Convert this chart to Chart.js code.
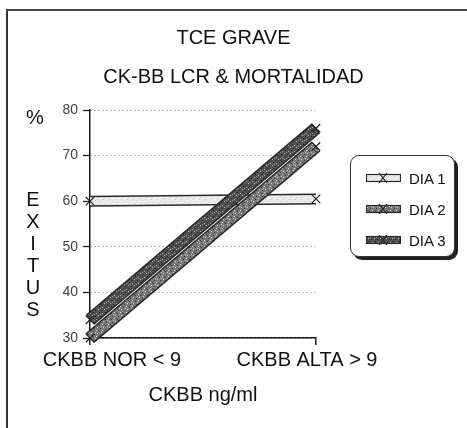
<!DOCTYPE html>
<html>
<head>
<meta charset="utf-8">
<script src="https://cdn.jsdelivr.net/npm/chart.js@4.4.1/dist/chart.umd.min.js"></script>
<style>
  html, body { margin: 0; padding: 0; background: #fff; }
  #wrap { position: relative; width: 467px; height: 428px; overflow: hidden; }
  #frame { position: absolute; left: 6px; top: 9px; width: 480px; height: 440px; border-left: 2px solid #333; border-top: 2px solid #444; }
  #chart { position: absolute; left: 0; top: 0; }
  #legend { position: absolute; left: 350px; top: 155px; width: 103px; height: 100px; border: 1.5px solid #333; border-radius: 9px; box-shadow: 3px 3px 0 #222; background: #fff; font-family: "Liberation Sans", Arial, sans-serif; font-size: 15px; color: #111; }
  .item { position: absolute; left: 15px; height: 16px; display: flex; align-items: center; }
  .item canvas { margin-right: 8px; }
</style>
</head>
<body>
<div id="wrap">
  <div id="frame"></div>
  <canvas id="chart" width="467" height="428"></canvas>
  <div id="legend"></div>
</div>
<script>
const categories = ['CKBB NOR < 9', 'CKBB ALTA > 9'];
const seriesNames = ['DIA 1', 'DIA 2', 'DIA 3'];
const dia1 = [60, 60.5];
const dia2 = [30, 72];
const dia3 = [34, 76];
const yTicks = [30, 40, 50, 60, 70, 80];

const FONT = '"Liberation Sans", Arial, Helvetica, sans-serif';

// small speckled tiles, like the old halftone fills
function makePattern(bg, dots) {
    const c = document.createElement('canvas');
    c.width = 6; c.height = 6;
    const g = c.getContext('2d');
    g.fillStyle = bg;
    g.fillRect(0, 0, 6, 6);
    dots.forEach(([x, y, col]) => { g.fillStyle = col; g.fillRect(x, y, 1, 1); });
    return g.createPattern(c, 'repeat');
}

const fills = [
    makePattern('#ececec', [[1, 1, '#c4c4c4'], [4, 3, '#cfcfcf'], [2, 5, '#d0d0d0']]),
    makePattern('#7a7a7a', [[0, 0, '#ddd'], [3, 1, '#333'], [1, 3, '#d6d6d6'], [4, 4, '#3a3a3a'], [5, 2, '#c8c8c8'], [2, 0, '#444']]),
    makePattern('#505050', [[0, 1, '#b0b0b0'], [3, 0, '#222'], [2, 3, '#bbb'], [5, 4, '#222'], [4, 2, '#999']])
];
const outerWidths = [11, 13, 13];

const series = [dia1, dia2, dia3];
const datasets = [];
series.forEach((vals, i) => {
    // dark outline underneath, then the patterned band on top
    datasets.push({
        label: seriesNames[i] + ' borde',
        data: vals,
        borderColor: '#2a2a2a',
        borderWidth: outerWidths[i],
        pointRadius: 0,
        order: 6 - 2 * i,
        clip: false
    });
    datasets.push({
        label: seriesNames[i],
        data: vals,
        borderColor: fills[i],
        borderWidth: outerWidths[i] - 3,
        pointStyle: 'crossRot',
        pointRadius: 6,
        pointBorderColor: '#222',
        pointBorderWidth: 1.2,
        pointBackgroundColor: 'transparent',
        order: 5 - 2 * i,
        clip: false
    });
});

const textPlugin = {
    id: 'textos',
    afterDraw(chart) {
        const ctx = chart.ctx;
        const x = chart.scales.x, y = chart.scales.y;
        ctx.save();
        ctx.fillStyle = '#111';
        ctx.textAlign = 'center';
        ctx.textBaseline = 'middle';
        ctx.font = '20px ' + FONT;
        const shift = [22, -9];
        categories.forEach((c, i) => ctx.fillText(c, x.getPixelForValue(i) + shift[i], x.top + 22));
        ctx.fillText('%', 35, y.top + 8);
        'EXITUS'.split('').forEach((ch, i) => ctx.fillText(ch, 33, 200 + i * 22));
        ctx.restore();
    }
};

const chart = new Chart(document.getElementById('chart').getContext('2d'), {
    type: 'line',
    data: { labels: categories, datasets: datasets },
    options: {
        responsive: false,
        animation: false,
        events: [],
        layout: { padding: 0 },
        plugins: {
            legend: { display: false },
            tooltip: { enabled: false },
            title: {
                display: true,
                text: ['TCE GRAVE', 'CK-BB LCR & MORTALIDAD'],
                color: '#111',
                font: { family: FONT, size: 20, weight: 'normal', lineHeight: 1.95 },
                padding: { top: 19, bottom: 13 }
            }
        },
        scales: {
            x: {
                type: 'category',
                offset: false,
                afterFit: s => { s.height = 90; },
                border: { color: '#111', width: 1.5 },
                grid: { drawOnChartArea: false, tickLength: 7, color: '#222', lineWidth: 1.5 },
                ticks: { display: false },
                title: {
                    display: true,
                    text: 'CKBB ng/ml',
                    color: '#111',
                    font: { family: FONT, size: 20, lineHeight: 1.2 },
                    padding: { top: 0, bottom: 21 }
                }
            },
            y: {
                min: 30,
                max: 80,
                afterFit: s => { s.width = 90; },
                afterBuildTicks: s => { s.ticks = yTicks.map(v => ({ value: v })); },
                border: { color: '#111', width: 1.5, dash: [1, 3] },
                grid: {
                    color: '#777',
                    lineWidth: 1,
                    tickBorderDash: [],
                    tickColor: '#222',
                    tickWidth: 1.3,
                    tickLength: 7
                },
                ticks: {
                    color: '#444',
                    padding: 5,
                    font: { family: FONT, size: 14 }
                }
            },
            // empty box on the right, leaves room for the legend
            espacio: {
                type: 'linear',
                position: 'right',
                afterFit: s => { s.width = 151; },
                grid: { display: false },
                border: { display: false },
                ticks: { display: false }
            }
        }
    },
    plugins: [textPlugin]
});

// legend built from the chart's own dataset labels and fills
const legend = document.getElementById('legend');
chart.data.datasets.filter(d => !d.label.endsWith('borde')).forEach((d, i) => {
    const row = document.createElement('div');
    row.className = 'item';
    row.style.top = (14 + i * 31) + 'px';
    const sw = document.createElement('canvas');
    sw.width = 35; sw.height = 10;
    const g = sw.getContext('2d');
    g.fillStyle = d.borderColor;
    g.fillRect(0, 1, 35, 8);
    g.strokeStyle = '#2a2a2a';
    g.lineWidth = 1.2;
    g.strokeRect(0.5, 1.5, 34, 7);
    g.beginPath();
    g.moveTo(13, 0); g.lineTo(21, 10);
    g.moveTo(21, 0); g.lineTo(13, 10);
    g.stroke();
    const t = document.createElement('span');
    t.textContent = d.label;
    row.appendChild(sw);
    row.appendChild(t);
    legend.appendChild(row);
});
</script>
</body>
</html>
